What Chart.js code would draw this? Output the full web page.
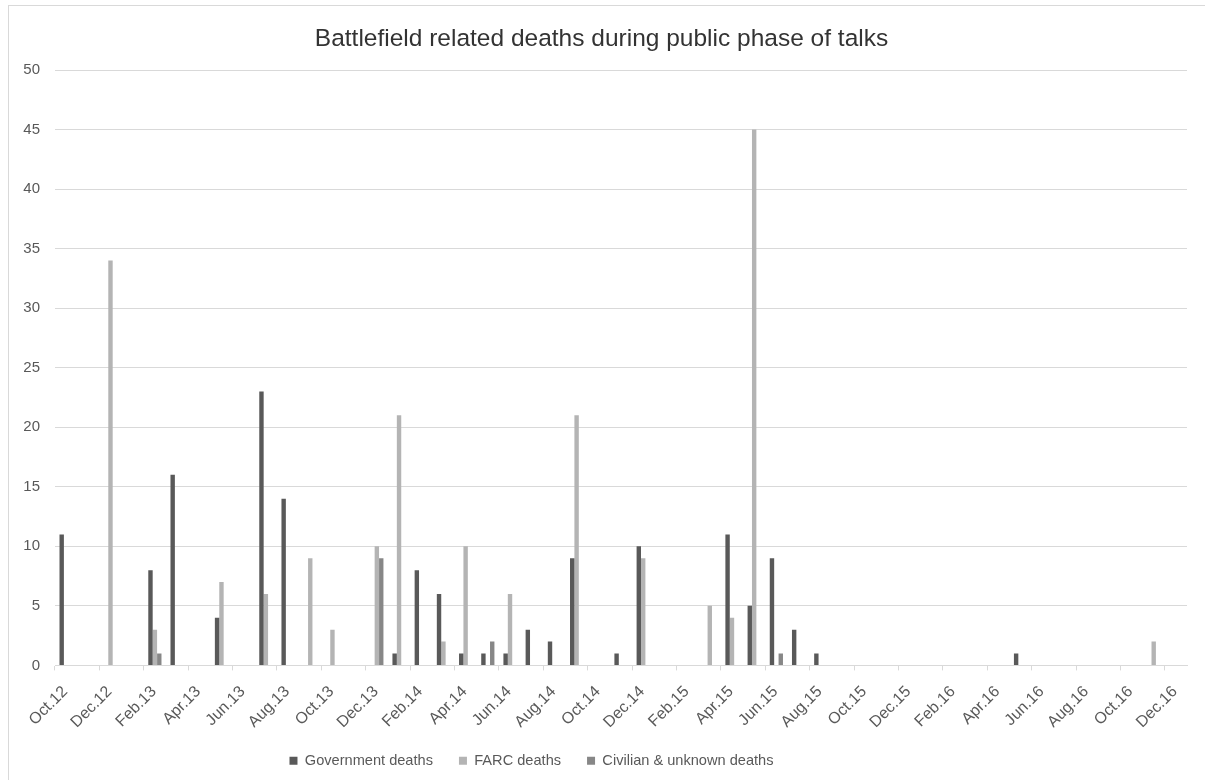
<!DOCTYPE html>
<html>
<head>
<meta charset="utf-8">
<title>Battlefield related deaths during public phase of talks</title>
<script src="https://cdn.jsdelivr.net/npm/chart.js@4.4.1/dist/chart.umd.min.js"></script>
<style>
  html, body { margin: 0; padding: 0; background: #ffffff; overflow: hidden; }
  #frame { position: absolute; left: 8px; top: 5px; width: 1300px; height: 900px; border: 1px solid #d9d9d9; }
  #wrap { position: absolute; left: 0; top: 0; width: 1205px; height: 780px; }
</style>
</head>
<body>
<div id="frame"></div>
<div id="wrap"><canvas id="chart"></canvas></div>
<script>
// Monthly categories, October 2012 to December 2016
const months = [
  'Oct.12', 'Nov.12', 'Dec.12',
  'Jan.13', 'Feb.13', 'Mar.13', 'Apr.13', 'May.13', 'Jun.13', 'Jul.13', 'Aug.13', 'Sep.13', 'Oct.13', 'Nov.13', 'Dec.13',
  'Jan.14', 'Feb.14', 'Mar.14', 'Apr.14', 'May.14', 'Jun.14', 'Jul.14', 'Aug.14', 'Sep.14', 'Oct.14', 'Nov.14', 'Dec.14',
  'Jan.15', 'Feb.15', 'Mar.15', 'Apr.15', 'May.15', 'Jun.15', 'Jul.15', 'Aug.15', 'Sep.15', 'Oct.15', 'Nov.15', 'Dec.15',
  'Jan.16', 'Feb.16', 'Mar.16', 'Apr.16', 'May.16', 'Jun.16', 'Jul.16', 'Aug.16', 'Sep.16', 'Oct.16', 'Nov.16', 'Dec.16'
];

// Deaths per month (one row per year)
const governmentDeaths = [
  11, 0, 0,
  0, 8, 16, 0, 4, 0, 23, 14, 0, 0, 0, 0,
  1, 8, 6, 1, 1, 1, 3, 2, 9, 0, 1, 10,
  0, 0, 0, 11, 5, 9, 3, 1, 0, 0, 0, 0,
  0, 0, 0, 0, 1, 0, 0, 0, 0, 0, 0, 0
];
const farcDeaths = [
  0, 0, 34,
  0, 3, 0, 0, 7, 0, 6, 0, 9, 3, 0, 10,
  21, 0, 2, 10, 0, 6, 0, 0, 21, 0, 0, 9,
  0, 0, 5, 4, 45, 0, 0, 0, 0, 0, 0, 0,
  0, 0, 0, 0, 0, 0, 0, 0, 0, 0, 2, 0
];
const civilianDeaths = [
  0, 0, 0,
  0, 1, 0, 0, 0, 0, 0, 0, 0, 0, 0, 9,
  0, 0, 0, 0, 2, 0, 0, 0, 0, 0, 0, 0,
  0, 0, 0, 0, 0, 1, 0, 0, 0, 0, 0, 0,
  0, 0, 0, 0, 0, 0, 0, 0, 0, 0, 0, 0
];

const FONT = "'Liberation Sans', Arial, sans-serif";
const GRID = '#d9d9d9';
const TEXT = '#595959';

// Nudges the title right and the legend row left of the canvas centre
const boxShift = {
  id: 'boxShift',
  afterLayout(chart) {
    const legend = chart.legend;
    if (legend) {
      legend.left -= 62;
      legend.right -= 62;
      legend.adjustHitBoxes();
    }
    const title = chart.titleBlock;
    if (title) {
      title.left += 8;
      title.right += 8;
    }
  }
};

new Chart(document.getElementById('chart'), {
  type: 'bar',
  data: {
    labels: months,
    datasets: [
      { label: 'Government deaths', data: governmentDeaths, backgroundColor: '#595959' },
      { label: 'FARC deaths', data: farcDeaths, backgroundColor: '#b4b4b4' },
      { label: 'Civilian & unknown deaths', data: civilianDeaths, backgroundColor: '#878787' }
    ]
  },
  plugins: [boxShift],
  options: {
    responsive: true,
    maintainAspectRatio: false,
    animation: false,
    barThickness: 4.4,
    borderWidth: 0,
    inflateAmount: 0,
    layout: { padding: { left: 0, right: 18, top: 0, bottom: 2 } },
    plugins: {
      title: {
        display: true,
        text: 'Battlefield related deaths during public phase of talks',
        color: '#333333',
        font: { family: FONT, size: 24.5, weight: 'normal' },
        padding: { top: 25, bottom: 15.6 }
      },
      legend: {
        position: 'bottom',
        labels: {
          color: TEXT,
          font: { family: FONT, size: 14.6 },
          boxWidth: 8,
          boxHeight: 8,
          padding: 26
        }
      },
      tooltip: { enabled: false }
    },
    scales: {
      x: {
        offset: true,
        grid: {
          display: true,
          offset: true,
          drawOnChartArea: false,
          drawTicks: true,
          tickLength: 5,
          color: (ctx) => (ctx.index !== undefined && ctx.index % 2 === 0) ? GRID : 'rgba(0,0,0,0)'
        },
        border: { display: true, color: GRID },
        ticks: {
          autoSkip: false,
          minRotation: 45,
          maxRotation: 45,
          padding: 12,
          labelOffset: -1,
          color: TEXT,
          font: { family: FONT, size: 16 },
          callback: (value, index) => (index % 2 === 0 ? months[index] : '')
        },
        afterFit: (scale) => { scale.height = 62; }
      },
      y: {
        min: 0,
        max: 50,
        grid: { color: GRID, drawTicks: false },
        border: { display: false },
        ticks: {
          stepSize: 5,
          padding: 15,
          color: TEXT,
          font: { family: FONT, size: 15 }
        },
        afterFit: (scale) => { scale.width = 55; }
      }
    }
  }
});
</script>
</body>
</html>
